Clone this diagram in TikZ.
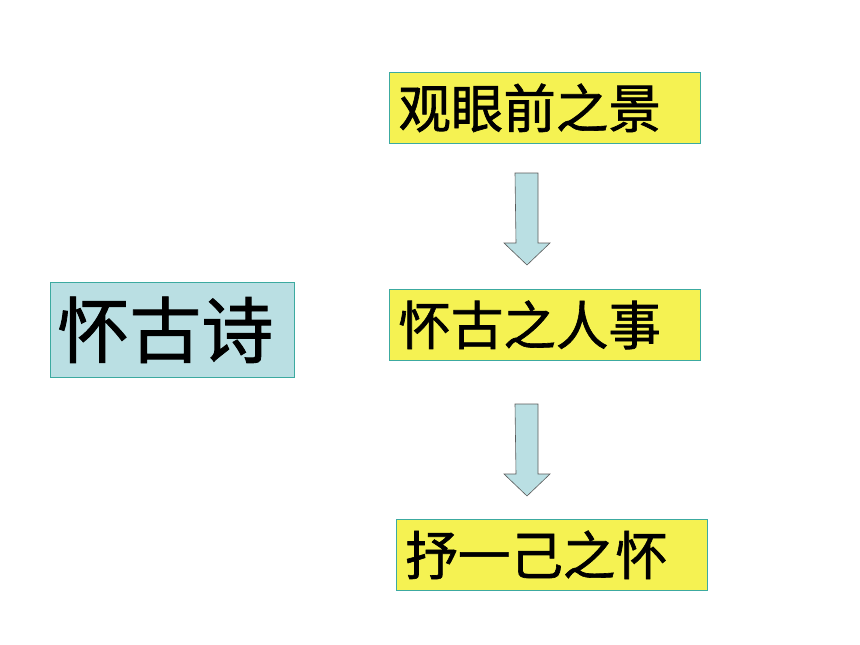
\documentclass[tikz,border=0pt]{standalone}
\usepackage{fontspec}
\newfontfamily\cjk[FakeBold=1.2]{Noto Sans CJK SC}
\definecolor{boxyellow}{RGB}{245,242,82}
\definecolor{boxblue}{RGB}{186,223,227}
\definecolor{edgeteal}{RGB}{60,170,160}
\definecolor{arrowedge}{RGB}{90,90,90}
\tikzset{
  stepbox/.style={draw=edgeteal, line width=0.8pt, fill=boxyellow, anchor=north west,
    minimum width=311pt, minimum height=71pt, text width=293pt, align=left,
    inner xsep=9pt, inner ysep=0pt, font=\cjk\fontsize{52.5}{56}\selectfont},
  titlebox/.style={draw=edgeteal, line width=0.8pt, fill=boxblue, anchor=north west,
    minimum width=244pt, minimum height=95pt, text width=230pt, align=left,
    inner xsep=7pt, inner ysep=0pt, font=\cjk\fontsize{72}{76}\selectfont},
  blockarrow/.style={draw=arrowedge, line width=0.6pt, fill=boxblue}
}
\begin{document}
\begin{tikzpicture}[x=1pt,y=-1pt]
\useasboundingbox (0,0) rectangle (860,645);
\node[titlebox] (title) at (50,282) {怀古诗};
\node[stepbox] (s1) at (389,72) {观眼前之景};
\node[stepbox] (s2) at (389,289) {怀古之人事};
\node[stepbox] (s3) at (396,519) {抒一己之怀};
\coordinate (a1) at (526.5,173);
\coordinate (a2) at (526.5,404);
\foreach \a in {a1,a2}{
  \draw[blockarrow] (\a) ++(-11.5,0) -- ++(23,0) -- ++(0,70) -- ++(12,0) -- ++(-23,22) -- ++(-23,-22) -- ++(12,0) -- cycle;
}
\end{tikzpicture}
\end{document}
